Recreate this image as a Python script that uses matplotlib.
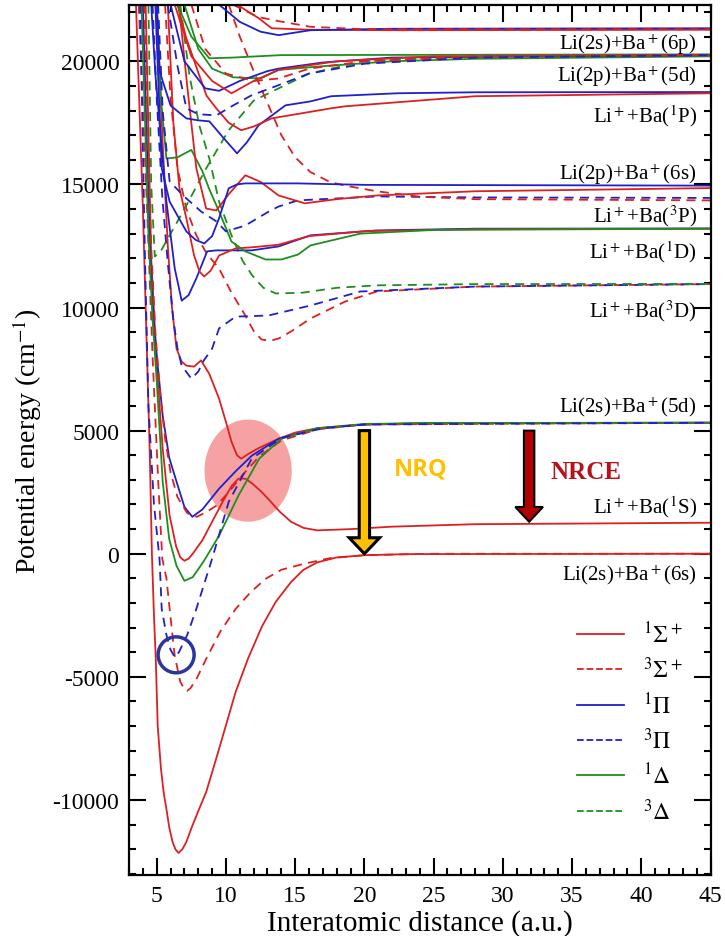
import numpy as np
import matplotlib
matplotlib.use("Agg")
import matplotlib.pyplot as plt
from matplotlib.lines import Line2D
from matplotlib.patches import Ellipse, FancyArrow

plt.rcParams['font.family'] = ['Liberation Serif', 'DejaVu Serif']
plt.rcParams['mathtext.fontset'] = 'stix'
plt.rcParams['axes.unicode_minus'] = False

RED = '#dd2020'
BLUE = '#2020c8'
GREEN = '#1e8f1e'

# ---- Li(2s)+Ba+(6s) ----
r_s1_6s = [3.5, 4.0, 4.3, 4.5, 4.65, 4.8, 4.93, 5.07, 5.3, 5.5, 5.7, 5.9, 6.14, 6.35, 6.57, 6.85, 7.14, 7.5, 8.0, 8.57, 9.2, 9.8, 10.7, 11.6, 12.6, 13.6, 14.7, 15.6, 16.6, 18.0, 20.0, 23.0, 45.0]
e_s1_6s = [22300, 14000, 8000, 4000, 0, -2500, -4270, -6990, -8700, -9700, -10370, -11100, -11700, -12000, -12150, -12000, -11700, -11150, -10450, -9680, -8500, -7350, -5610, -4250, -2950, -1950, -1150, -650, -350, -150, -60, -15, 0]
r_s3_6s = [3.7, 4.3, 4.7, 5.1, 5.4, 5.7, 6.0, 6.3, 6.7, 7.0, 7.2, 7.45, 7.9, 8.57, 9.6, 10.7, 11.8, 12.86, 14.0, 15.7, 17.5, 20.0, 25.0, 45.0]
e_s3_6s = [22300, 14000, 8000, 3000, -200, -1000, -2600, -4150, -5200, -5500, -5570, -5450, -5050, -4270, -3150, -2240, -1550, -1020, -650, -400, -180, -60, 0, 0]

# ---- Li+ + Ba(1S) / Li(2s)+Ba+(5d) ----
r_s1_1s = [4.2, 4.6, 5.07, 5.43, 5.93, 6.4, 6.7, 7.0, 7.3, 7.6, 8.3, 9.0, 9.8, 10.4, 10.9, 11.4, 11.9, 12.5, 13.1, 13.9, 14.7, 15.6, 16.6, 19.0, 22.0, 28.0, 45.0]
e_s1_1s = [22300, 12000, 7000, 4270, 1545, 300, -150, -285, -200, 0, 550, 1300, 2150, 2750, 3050, 3050, 2850, 2550, 2200, 1700, 1300, 1050, 950, 1000, 1100, 1200, 1260]
r_s1_5d = [5.0, 5.4, 5.8, 6.1, 6.43, 6.8, 7.14, 7.7, 8.2, 8.8, 9.5, 10.0, 10.4, 10.8, 11.1, 11.6, 12.4, 13.8, 15.0, 16.6, 20.0, 25.0, 45.0]
e_s1_5d = [22300, 17000, 12500, 10000, 8330, 7800, 7640, 7600, 7850, 7300, 6300, 5350, 4550, 4000, 3860, 4050, 4300, 4670, 4920, 5100, 5250, 5300, 5320]
r_p1_5d = [4.0, 4.5, 4.8, 5.07, 5.43, 5.9, 6.43, 7.0, 7.57, 8.3, 9.5, 10.7, 11.86, 13.8, 16.6, 20.0, 25.0, 45.0]
e_p1_5d = [22300, 12500, 9300, 7640, 5610, 3900, 2927, 1900, 1500, 1800, 2640, 3350, 3980, 4670, 5080, 5250, 5310, 5320]
r_s3_5d = [4.1, 4.6, 4.9, 5.25, 5.6, 6.0, 6.5, 7.2, 7.9, 8.6, 9.3, 10.2, 11.2, 12.4, 14.0, 16.6, 20.0, 45.0]
e_s3_5d = [22300, 12500, 9000, 6500, 4700, 3300, 2300, 1650, 1500, 1700, 1950, 2500, 3200, 3950, 4600, 5050, 5250, 5320]
r_d1_5d = [3.9, 4.4, 4.7, 5.0, 5.43, 5.9, 6.43, 7.0, 7.6, 8.4, 9.5, 10.9, 12.4, 14.0, 16.6, 20.0, 25.0, 45.0]
e_d1_5d = [22300, 13000, 9500, 7000, 2930, 600, -490, -1100, -950, -300, 730, 2360, 3860, 4670, 5100, 5270, 5310, 5320]
r_p3_5d = [3.8, 4.15, 4.4, 4.8, 5.2, 5.36, 5.7, 6.0, 6.3, 6.6, 7.2, 7.86, 9.0, 10.2, 11.86, 14.0, 17.0, 20.0, 45.0]
e_p3_5d = [22300, 12000, 6000, 2000, -200, -2240, -3300, -3900, -4200, -4000, -3300, -2240, -200, 2110, 3860, 4700, 5100, 5250, 5320]

# ---- Li+ + Ba(3D) ----
r_s3_3d = [5.6, 6.0, 6.5, 7.14, 7.86, 8.6, 9.5, 10.4, 11.4, 12.0, 12.57, 13.2, 13.8, 14.7, 16.1, 18.6, 20.9, 28.0, 45.0]
e_s3_3d = [22300, 18500, 15650, 14000, 12930, 12200, 11585, 10600, 9675, 9050, 8700, 8650, 8740, 9025, 9550, 10240, 10650, 10850, 10950]
r_p3_3d = [4.7, 5.0, 5.4, 5.8, 6.2, 6.5, 6.8, 7.5, 8.0, 8.4, 9.0, 9.5, 10.7, 13.07, 15.2, 16.1, 19.7, 28.0, 45.0]
e_p3_3d = [22300, 18500, 14500, 11800, 9500, 8330, 7640, 7110, 7400, 7850, 8330, 9150, 9630, 9675, 9960, 10080, 10650, 10850, 10950]
r_d3_3d = [6.7, 7.36, 8.07, 8.8, 9.5, 10.4, 11.2, 11.9, 12.7, 13.6, 15.5, 18.0, 20.9, 28.0, 45.0]
e_d3_3d = [22300, 19430, 17400, 16050, 14300, 12930, 11900, 11300, 10800, 10570, 10600, 10800, 10900, 10950, 10960]
r_d3_hi = [4.4, 4.6, 4.86, 5.3, 6.0, 7.0, 8.57, 10.2, 12.0, 13.8, 16.0, 20.0, 28.0, 45.0]
e_d3_hi = [22300, 15000, 12070, 12300, 13000, 14000, 15650, 17200, 18400, 18900, 19500, 20000, 20200, 20250]

# ---- Li+ + Ba(1D) ----
r_p1_1d = [4.6, 4.9, 5.2, 5.7, 6.3, 6.8, 7.3, 7.86, 8.64, 9.3, 11.86, 13.8, 16.1, 20.9, 28.0, 45.0]
e_p1_1d = [22300, 19500, 17500, 14300, 11585, 10280, 10500, 11180, 12280, 12320, 12320, 12480, 12930, 13130, 13200, 13210]
r_s1_1d = [5.8, 6.2, 6.64, 7.14, 7.7, 8.1, 8.43, 8.9, 9.5, 10.7, 12.0, 13.8, 16.0, 20.0, 28.0, 45.0]
e_s1_1d = [22300, 17500, 14840, 13620, 12110, 11450, 11260, 11500, 12110, 12400, 12450, 12550, 12900, 13100, 13180, 13200]
r_d1_1d = [5.0, 5.3, 5.7, 6.5, 7.5, 8.3, 8.8, 9.5, 10.4, 11.4, 12.86, 14.0, 15.2, 16.1, 19.7, 25.0, 45.0]
e_d1_1d = [22300, 18500, 16050, 16100, 16400, 15530, 14800, 13900, 12680, 12280, 11950, 11950, 12150, 12520, 13000, 13150, 13200]

# ---- Li+ + Ba(3P) ----
r_p3_3p = [5.1, 5.43, 5.93, 7.0, 8.2, 9.3, 10.0, 11.4, 13.1, 13.8, 15.2, 20.9, 28.0, 45.0]
e_p3_3p = [22300, 17970, 15120, 14500, 13900, 13500, 13090, 13330, 13900, 14100, 14350, 14510, 14470, 14450]
r_s3_3p = [10.2, 11.0, 12.0, 13.0, 14.0, 15.0, 16.1, 17.5, 18.6, 20.9, 24.0, 28.0, 45.0]
e_s3_3p = [22300, 21000, 19600, 18300, 17000, 16100, 15500, 15100, 14950, 14720, 14500, 14400, 14350]

# ---- Li(2p)+Ba+(6s) ----
r_s1_2p6s = [6.6, 7.2, 7.86, 8.57, 9.3, 10.2, 11.4, 12.5, 13.8, 15.7, 18.0, 20.9, 28.0, 45.0]
e_s1_2p6s = [22300, 19000, 15650, 14020, 13940, 14600, 15370, 15100, 14550, 14230, 14400, 14550, 14720, 14850]
r_p1_2p6s = [4.9, 5.36, 5.93, 7.14, 7.8, 8.43, 9.0, 9.5, 10.2, 10.8, 11.4, 15.2, 20.0, 45.0]
e_p1_2p6s = [22300, 15650, 14300, 13090, 12750, 12600, 12900, 13620, 14840, 15000, 15040, 15040, 14980, 14950]

# ---- Li+ + Ba(1P) ----
r_p1_1p = [5.0, 5.2, 6.0, 7.14, 8.0, 8.8, 9.8, 10.8, 11.5, 12.36, 14.3, 16.1, 17.6, 22.4, 28.0, 45.0]
e_p1_1p = [22300, 19600, 18200, 17680, 17600, 17560, 16900, 16260, 16700, 17400, 18210, 18370, 18580, 18700, 18740, 18750]
r_s1_1p = [6.5, 7.14, 8.07, 8.6, 9.3, 10.2, 11.1, 12.0, 13.3, 17.6, 18.6, 28.0, 45.0]
e_s1_1p = [22300, 20930, 19430, 18600, 18090, 17500, 17200, 17350, 17680, 18090, 18170, 18580, 18700]

# ---- Li(2p)+Ba+(5d) ----
r_d1_2p5d = [6.5, 7.5, 8.8, 10.5, 14.0, 45.0]
e_d1_2p5d = [22300, 21000, 20120, 20150, 20250, 20280]
r_d1b_2p5d = [7.0, 8.0, 9.0, 10.5, 12.5, 13.8, 17.0, 22.0, 28.0, 45.0]
e_d1b_2p5d = [22300, 20500, 19700, 19350, 19300, 19650, 19800, 20000, 20100, 20200]
r_p1_2p5d = [6.0, 7.0, 8.5, 9.5, 11.0, 13.0, 13.8, 17.0, 22.0, 45.0]
e_p1_2p5d = [22300, 20000, 18900, 18800, 19200, 19600, 19700, 19950, 20150, 20250]
r_s1_2p5d = [6.3, 7.5, 9.0, 10.4, 12.0, 13.8, 18.0, 25.0, 45.0]
e_s1_2p5d = [22300, 20200, 19200, 18700, 19200, 19650, 20000, 20200, 20250]
r_s3_2p5d = [7.5, 8.5, 10.0, 12.0, 13.8, 16.0, 20.0, 28.0, 45.0]
e_s3_2p5d = [22300, 20500, 19500, 19200, 19300, 19700, 20000, 20200, 20250]
r_p3_2p5d = [5.8, 6.5, 7.14, 8.0, 9.3, 10.5, 11.86, 13.57, 16.0, 20.0, 28.0, 45.0]
e_p3_2p5d = [22300, 19800, 18090, 17850, 17800, 18200, 18620, 18980, 19500, 19900, 20150, 20250]

# ---- Li(2s)+Ba+(6p) ----
r_s1_6p = [10.8, 12.36, 13.3, 16.0, 22.4, 45.0]
e_s1_6p = [22300, 21750, 21340, 21280, 21260, 21280]
r_p1_6p = [9.5, 11.0, 12.5, 13.8, 16.1, 22.0, 45.0]
e_p1_6p = [22300, 21600, 21200, 21060, 21260, 21320, 21340]
r_s3_6p = [10.5, 12.3, 13.8, 16.1, 20.0, 45.0]
e_s3_6p = [22300, 21800, 21630, 21400, 21300, 21300]

asym_labels = [r'Li(2s)+Ba$^+$(6p)', r'Li(2p)+Ba$^+$(5d)', r'Li$^+$+Ba($^1$P)', r'Li(2p)+Ba$^+$(6s)',
               r'Li$^+$+Ba($^3$P)', r'Li$^+$+Ba($^1$D)', r'Li$^+$+Ba($^3$D)', r'Li(2s)+Ba$^+$(5d)',
               r'Li$^+$+Ba($^1$S)', r'Li(2s)+Ba$^+$(6s)']
asym_label_e = [20700, 19430, 17800, 15450, 13740, 12280, 9880, 5975, 1950, -810]

legend_labels = [r'$^1\Sigma^+$', r'$^3\Sigma^+$', r'$^1\Pi$', r'$^3\Pi$', r'$^1\Delta$', r'$^3\Delta$']

curves = [
    (r_s1_6s, e_s1_6s, RED, '-'), (r_s3_6s, e_s3_6s, RED, '--'),
    (r_s1_1s, e_s1_1s, RED, '-'), (r_s1_5d, e_s1_5d, RED, '-'),
    (r_p1_5d, e_p1_5d, BLUE, '-'), (r_s3_5d, e_s3_5d, RED, '--'),
    (r_d1_5d, e_d1_5d, GREEN, '-'), (r_p3_5d, e_p3_5d, BLUE, '--'),
    (r_s3_3d, e_s3_3d, RED, '--'), (r_p3_3d, e_p3_3d, BLUE, '--'),
    (r_d3_3d, e_d3_3d, GREEN, '--'), (r_d3_hi, e_d3_hi, GREEN, '--'),
    (r_p1_1d, e_p1_1d, BLUE, '-'), (r_s1_1d, e_s1_1d, RED, '-'),
    (r_d1_1d, e_d1_1d, GREEN, '-'), (r_p3_3p, e_p3_3p, BLUE, '--'),
    (r_s3_3p, e_s3_3p, RED, '--'), (r_s1_2p6s, e_s1_2p6s, RED, '-'),
    (r_p1_2p6s, e_p1_2p6s, BLUE, '-'), (r_p1_1p, e_p1_1p, BLUE, '-'),
    (r_s1_1p, e_s1_1p, RED, '-'), (r_d1_2p5d, e_d1_2p5d, GREEN, '-'),
    (r_d1b_2p5d, e_d1b_2p5d, GREEN, '-'), (r_p1_2p5d, e_p1_2p5d, BLUE, '-'),
    (r_s1_2p5d, e_s1_2p5d, RED, '-'), (r_s3_2p5d, e_s3_2p5d, RED, '--'),
    (r_p3_2p5d, e_p3_2p5d, BLUE, '--'), (r_s1_6p, e_s1_6p, RED, '-'),
    (r_p1_6p, e_p1_6p, BLUE, '-'), (r_s3_6p, e_s3_6p, RED, '--'),
]

fig = plt.figure(figsize=(7.25, 9.37), dpi=100)
ax = fig.add_axes([0.178, 0.065, 0.802, 0.929])

# highlighted avoided crossing
ax.add_patch(Ellipse((11.6, 3375), 6.3, 4150, color='#f6a2a2', zorder=0.5, lw=0))

for r, e, c, ls in curves:
    ax.plot(r, e, color=c, ls=ls, lw=1.3, dashes=(5, 3.5) if ls == '--' else (None, None), zorder=2)

ax.add_patch(Ellipse((6.4, -4105), 2.6, 1460, fill=False, edgecolor='#2b35a0', lw=2.5, zorder=4))

ax.add_patch(FancyArrow(20.0, 5000, 0, -5000, width=0.75, head_width=2.2, head_length=650,
                        length_includes_head=True, facecolor='#ffc000', edgecolor='black', lw=2.2, zorder=5))
ax.text(24.1, 3450, 'NRQ', color='#ffc000', fontsize=17, fontweight='bold', family='Open Sans',
        ha='center', va='center', zorder=5)
ax.add_patch(FancyArrow(31.9, 5000, 0, -3700, width=0.75, head_width=2.0, head_length=600,
                        length_includes_head=True, facecolor='#b30000', edgecolor='black', lw=1.5, zorder=5))
ax.text(36.0, 3350, 'NRCE', color='#b5121b', fontsize=18, fontweight='bold', ha='center', va='center', zorder=5)

for lab, e in zip(asym_labels, asym_label_e):
    ax.text(44.0, e, lab, fontsize=15, ha='right', va='center', zorder=5)

ax.set_xlim(3, 45)
ax.set_ylim(-13050, 22300)
ax.set_xticks(np.arange(5, 46, 5))
ax.set_xticks(np.arange(3, 46, 1), minor=True)
ax.set_yticks(np.arange(-10000, 20001, 5000))
ax.set_yticks(np.arange(-13000, 22001, 1000), minor=True)
ax.tick_params(which='both', direction='in', top=True, right=True, labelsize=17, width=1.5)
ax.tick_params(which='major', length=12, pad=7)
ax.tick_params(which='minor', length=5)
for s in ax.spines.values():
    s.set_linewidth(1.6)

ax.set_xlabel('Interatomic distance (a.u.)', fontsize=21, labelpad=2)
ax.set_ylabel(r'Potential energy (cm$^{-1}$)', fontsize=20, labelpad=6)

handles = [Line2D([], [], color=c, ls=ls, lw=1.3) for c in (RED, BLUE, GREEN) for ls in ('-', '--')]
ax.legend(handles, legend_labels, loc='upper left', bbox_to_anchor=(0.75, 0.305), frameon=False,
          fontsize=17, handlelength=2.0, handletextpad=0.8, labelspacing=0.42, borderpad=0)

fig.savefig('out.png', dpi=100)
